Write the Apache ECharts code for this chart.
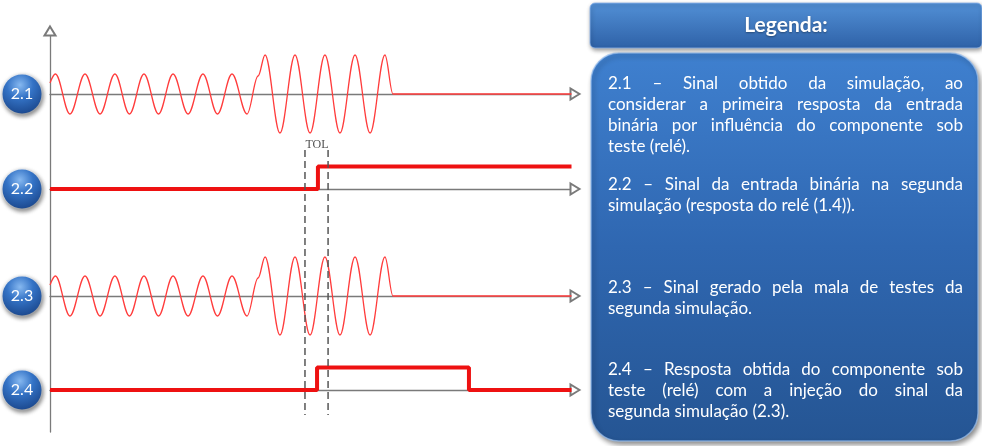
<!DOCTYPE html>
<html><head><meta charset="utf-8">
<script src="https://cdn.jsdelivr.net/npm/echarts@6/dist/echarts.min.js"></script>
<style>html,body{margin:0;padding:0;background:#fff}#c{width:982px;height:446px}</style>
</head><body><div id="c"></div>
<script>
// ---------- data (time in ms) ----------
const timeMax = 300;
const rowLabels = ['2.1', '2.2', '2.3', '2.4'];
// test signal: start, peaks/troughs and end
const signalTimes = [0, 3.1, 11.4, 20.0, 28.6, 37.1, 45.4, 53.7, 62.0, 70.3, 78.9, 87.4, 95.7, 104.0, 112.6, 118.9, 122.9, 131.4, 140.0, 148.6, 157.1, 165.7, 174.3, 182.9, 191.4, 196.0, 298];
const signal21 = [0.55, 1, -1, 1, -1, 1, -1, 1, -1, 1, -1, 1, -1, 1, -1, 0.9, 1.95, -1.95, 1.95, -1.95, 1.95, -1.95, 1.95, -1.95, 1.95, 0, 0];
const signal23 = [0.55, 1, -1, 1, -1, 1, -1, 1, -1, 1, -1, 1, -1, 1, -1, 0.9, 1.95, -1.95, 1.95, -1.95, 1.95, -1.95, 1.95, -1.95, 1.95, 0, 0];
const relayTimes22 = [0, 153.1, 298];
const relayStates22 = [0, 1, 1];
const relayTimes24 = [0, 152.6, 239.4, 298];
const relayStates24 = [0, 1, 0, 0];
const tolTimes = [145.7, 158.9];
const tolLabel = 'TOL';
const legendTitle = 'Legenda:';
const legendParagraphs = [
  ['2.1 – Sinal obtido da simulação, ao', 'considerar a primeira resposta da entrada', 'binária por influência do componente sob', 'teste (relé).'],
  ['2.2 – Sinal da entrada binária na segunda', 'simulação (resposta do relé (1.4)).'],
  ['2.3 – Sinal gerado pela mala de testes da', 'segunda simulação.'],
  ['2.4 – Resposta obtida do componente sob', 'teste (relé) com a injeção do sinal da', 'segunda simulação (2.3).']
];

// ---------- styles / layout ----------
const axisGray = '#7a7a7a';
const gridLeft = 50, gridWidth = 525;
const rows = [
  {top: 44, height: 100, lim: 2.5},
  {top: 144, height: 90, lim: 2},
  {top: 246, height: 100, lim: 2.5},
  {top: 345, height: 90, lim: 2}
];
const zip = (a, b) => a.map((v, i) => [v, b[i]]);
const arrowSym = ['none', 'emptyTriangle'];
const arrowSize = [11, 9];

const grids = [], xAxes = [], yAxes = [], series = [];
rows.forEach((r, i) => {
  grids.push({left: gridLeft, width: gridWidth, top: r.top, height: r.height, outerBoundsMode: 'none'});
  xAxes.push({
    gridIndex: i, type: 'value', min: 0, max: timeMax,
    axisLine: {show: true, onZero: true, symbol: arrowSym, symbolSize: arrowSize,
      lineStyle: {color: axisGray, width: 1.3}},
    axisTick: {show: false}, axisLabel: {show: false}, splitLine: {show: false}
  });
  yAxes.push({
    gridIndex: i, type: 'value', min: -r.lim, max: r.lim, interval: r.lim,
    axisLine: {show: false}, axisTick: {show: false}, splitLine: {show: false},
    axisLabel: {
      show: true, margin: 28, align: 'center',
      formatter: v => v === 0 ? '{c|' + rowLabels[i] + '}' : '',
      rich: {c: {
        width: 39, height: 39, lineHeight: 39, align: 'center', verticalAlign: 'middle',
        color: '#ffffff', fontSize: 16, fontFamily: 'Lato',
        backgroundColor: {type: 'radial', x: 0.45, y: 0.28, r: 0.8,
          colorStops: [{offset: 0, color: '#86b8f0'}, {offset: 0.4, color: '#3473c6'}, {offset: 1, color: '#163f82'}]},
        borderRadius: 19.5, borderColor: 'rgba(235,242,252,0.85)', borderWidth: 1,
        shadowBlur: 4, shadowColor: 'rgba(0,0,0,0.45)', shadowOffsetX: 1, shadowOffsetY: 2
      }}
    }
  });
});
// TOL grid (index 4)
grids.push({left: gridLeft, width: gridWidth, top: 150, height: 265, outerBoundsMode: 'none'});
xAxes.push({gridIndex: 4, type: 'value', min: 0, max: timeMax, show: false});
yAxes.push({gridIndex: 4, type: 'value', min: 0, max: 1, show: false});
// frame grid with vertical axis (index 5)
grids.push({left: gridLeft, width: gridWidth, top: 31, height: 401, outerBoundsMode: 'none'});
xAxes.push({gridIndex: 5, type: 'value', min: 0, max: timeMax, show: false});
yAxes.push({gridIndex: 5, type: 'value', min: 0, max: 1, interval: 1,
  axisLine: {show: true, onZero: true, symbol: arrowSym, symbolSize: arrowSize,
    lineStyle: {color: axisGray, width: 1.3}},
  axisTick: {show: false}, axisLabel: {show: false}, splitLine: {show: false}});

const waveStyle = {color: '#ff3c3c', width: 1.3};
const stepStyle = {color: '#ee1111', width: 4};
series.push({type: 'line', xAxisIndex: 0, yAxisIndex: 0, data: zip(signalTimes, signal21),
  smooth: 0.36, smoothMonotone: 'x', showSymbol: false, symbol: 'none', lineStyle: waveStyle, silent: true});
series.push({type: 'line', xAxisIndex: 1, yAxisIndex: 1, data: zip(relayTimes22, relayStates22),
  step: 'end', showSymbol: false, symbol: 'none', lineStyle: stepStyle, silent: true});
series.push({type: 'line', xAxisIndex: 2, yAxisIndex: 2, data: zip(signalTimes, signal23),
  smooth: 0.36, smoothMonotone: 'x', showSymbol: false, symbol: 'none', lineStyle: waveStyle, silent: true});
series.push({type: 'line', xAxisIndex: 3, yAxisIndex: 3, data: zip(relayTimes24, relayStates24),
  step: 'end', showSymbol: false, symbol: 'none', lineStyle: stepStyle, silent: true});
tolTimes.forEach(t => {
  series.push({type: 'line', xAxisIndex: 4, yAxisIndex: 4, data: [[t, 1], [t, 0]], z: 5,
    showSymbol: false, symbol: 'none', silent: true,
    lineStyle: {color: '#555555', width: 1.5, type: [7, 4]}});
});
series.push({type: 'scatter', xAxisIndex: 4, yAxisIndex: 4, data: [[tolTimes[0], 1]], symbolSize: 1,
  itemStyle: {color: 'transparent'}, silent: true, z: 6,
  label: {show: true, formatter: tolLabel, position: [1, -5], align: 'left', verticalAlign: 'middle',
    fontFamily: 'Liberation Serif', fontSize: 12, color: '#222222'}});

// ---------- legend panel ----------
const bodyFont = '17px Lato';
const mctx = document.createElement('canvas').getContext('2d');
mctx.font = bodyFont;
const textLeft = 608, textRight = 963;
const paraTops = [84, 185, 288, 370];
const lineStep = 20.8;
const graphics = [
  {type: 'rect', shape: {x: 591, y: 53, width: 387, height: 388, r: 28}, silent: true,
    style: {fill: {type: 'linear', x: 0, y: 0, x2: 0, y2: 1,
      colorStops: [{offset: 0, color: '#3f80cf'}, {offset: 0.5, color: '#2f67b1'}, {offset: 1, color: '#255593'}]},
      stroke: 'rgba(150,190,240,0.7)', lineWidth: 1.5,
      shadowBlur: 5, shadowColor: 'rgba(0,0,0,0.45)', shadowOffsetX: 2, shadowOffsetY: 3}},
  {type: 'rect', shape: {x: 590, y: 3, width: 392, height: 45, r: 5}, silent: true,
    style: {fill: {type: 'linear', x: 0, y: 0, x2: 0, y2: 1,
      colorStops: [{offset: 0, color: '#5290d6'}, {offset: 1, color: '#2e61a7'}]},
      stroke: 'rgba(140,180,235,0.8)', lineWidth: 1,
      shadowBlur: 4, shadowColor: 'rgba(0,0,0,0.4)', shadowOffsetX: 1, shadowOffsetY: 2}},
  {type: 'text', x: 786, y: 25, silent: true,
    style: {text: legendTitle, font: 'bold 21px Lato', fill: '#ffffff', textAlign: 'center', textVerticalAlign: 'middle',
      textShadowBlur: 2, textShadowColor: 'rgba(0,0,0,0.35)', textShadowOffsetY: 1}}
];
legendParagraphs.forEach((lines, p) => {
  lines.forEach((line, k) => {
    const y = paraTops[p] + k * lineStep;
    const justify = k < lines.length - 1;
    if (!justify) {
      graphics.push({type: 'text', x: textLeft, y, silent: true,
        style: {text: line, font: bodyFont, fill: '#ffffff', textAlign: 'left', textVerticalAlign: 'middle'}});
      return;
    }
    const words = line.split(' ');
    const widths = words.map(w => mctx.measureText(w).width);
    const total = widths.reduce((a, b) => a + b, 0);
    const gap = (textRight - textLeft - total) / (words.length - 1);
    let x = textLeft;
    words.forEach((w, j) => {
      graphics.push({type: 'text', x, y, silent: true,
        style: {text: w, font: bodyFont, fill: '#ffffff', textAlign: 'left', textVerticalAlign: 'middle'}});
      x += widths[j] + gap;
    });
  });
});

const chart = echarts.init(document.getElementById('c'), null, {renderer: 'canvas'});
chart.setOption({
  animation: false,
  backgroundColor: '#ffffff',
  grid: grids, xAxis: xAxes, yAxis: yAxes, series,
  graphic: graphics
});
</script></body></html>
